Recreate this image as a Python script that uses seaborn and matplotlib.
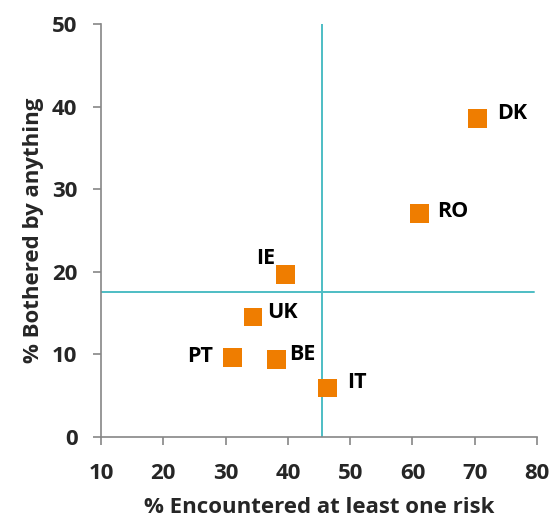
import seaborn as sns
import matplotlib.pyplot as plt
import pandas as pd

countries = ["DK", "RO", "IE", "UK", "PT", "BE", "IT"]
encountered = [70.5, 61.1, 39.6, 34.4, 31.1, 38.2, 46.4]
bothered = [38.6, 27.0, 19.6, 14.5, 9.6, 9.4, 5.9]

# averages drawn as cross lines
avg_encountered = 45.5
avg_bothered = 17.5

x_ticks = [10, 20, 30, 40, 50, 60, 70, 80]
y_ticks = [0, 10, 20, 30, 40, 50]

# label placement: (dx, dy, ha) in points
label_pos = {
	"DK": (14, 3, "left"),
	"RO": (13, 2, "left"),
	"IE": (-7, 12, "right"),
	"UK": (10, 3, "left"),
	"PT": (-14, 1, "right"),
	"BE": (9, 3, "left"),
	"IT": (14, 4, "left"),
}

df = pd.DataFrame({"country": countries, "x": encountered, "y": bothered})

sns.set_style("white")
plt.rcParams['font.family'] = ['Open Sans', 'DejaVu Sans']
plt.rcParams['font.weight'] = 'bold'

fig = plt.figure(figsize=(5.6, 5.21), dpi=100)
ax = fig.add_axes([0.1804, 0.1618, 0.7786, 0.7921])

teal = "#4DBDC4"
orange = "#EF7D00"
grey = "#868686"

ax.plot([avg_encountered, avg_encountered], [0, 50], color=teal, lw=1.4, zorder=1)
ax.plot([10, 79.5], [avg_bothered, avg_bothered], color=teal, lw=1.4, zorder=1)

sns.scatterplot(data=df, x="x", y="y", marker="s", s=185, color=orange,
				edgecolor="none", linewidth=0, ax=ax, zorder=3)

for c, xv, yv in zip(countries, encountered, bothered):
	dx, dy, ha = label_pos[c]
	ax.annotate(c, (xv, yv), xytext=(dx, dy), textcoords="offset points",
				ha=ha, va="center", fontsize=15.5, fontweight="bold", color="black")

ax.set_xlim(10, 80)
ax.set_ylim(0, 50)
ax.set_xticks(x_ticks)
ax.set_yticks(y_ticks)
ax.tick_params(axis="both", which="major", labelsize=16, length=6, width=1.2,
			   color=grey, direction="out", bottom=True, left=True)
ax.tick_params(axis="x", pad=13)
ax.tick_params(axis="y", pad=11)
for lbl in ax.get_xticklabels() + ax.get_yticklabels():
	lbl.set_fontweight("bold")

sns.despine(ax=ax)
for sp in ["left", "bottom"]:
	ax.spines[sp].set_color(grey)
	ax.spines[sp].set_linewidth(1.2)

ax.set_xlabel("% Encountered at least one risk", fontsize=16, fontweight="bold", labelpad=9)
ax.set_ylabel("% Bothered by anything", fontsize=16, fontweight="bold", labelpad=6)

fig.savefig("out.png", dpi=100)
